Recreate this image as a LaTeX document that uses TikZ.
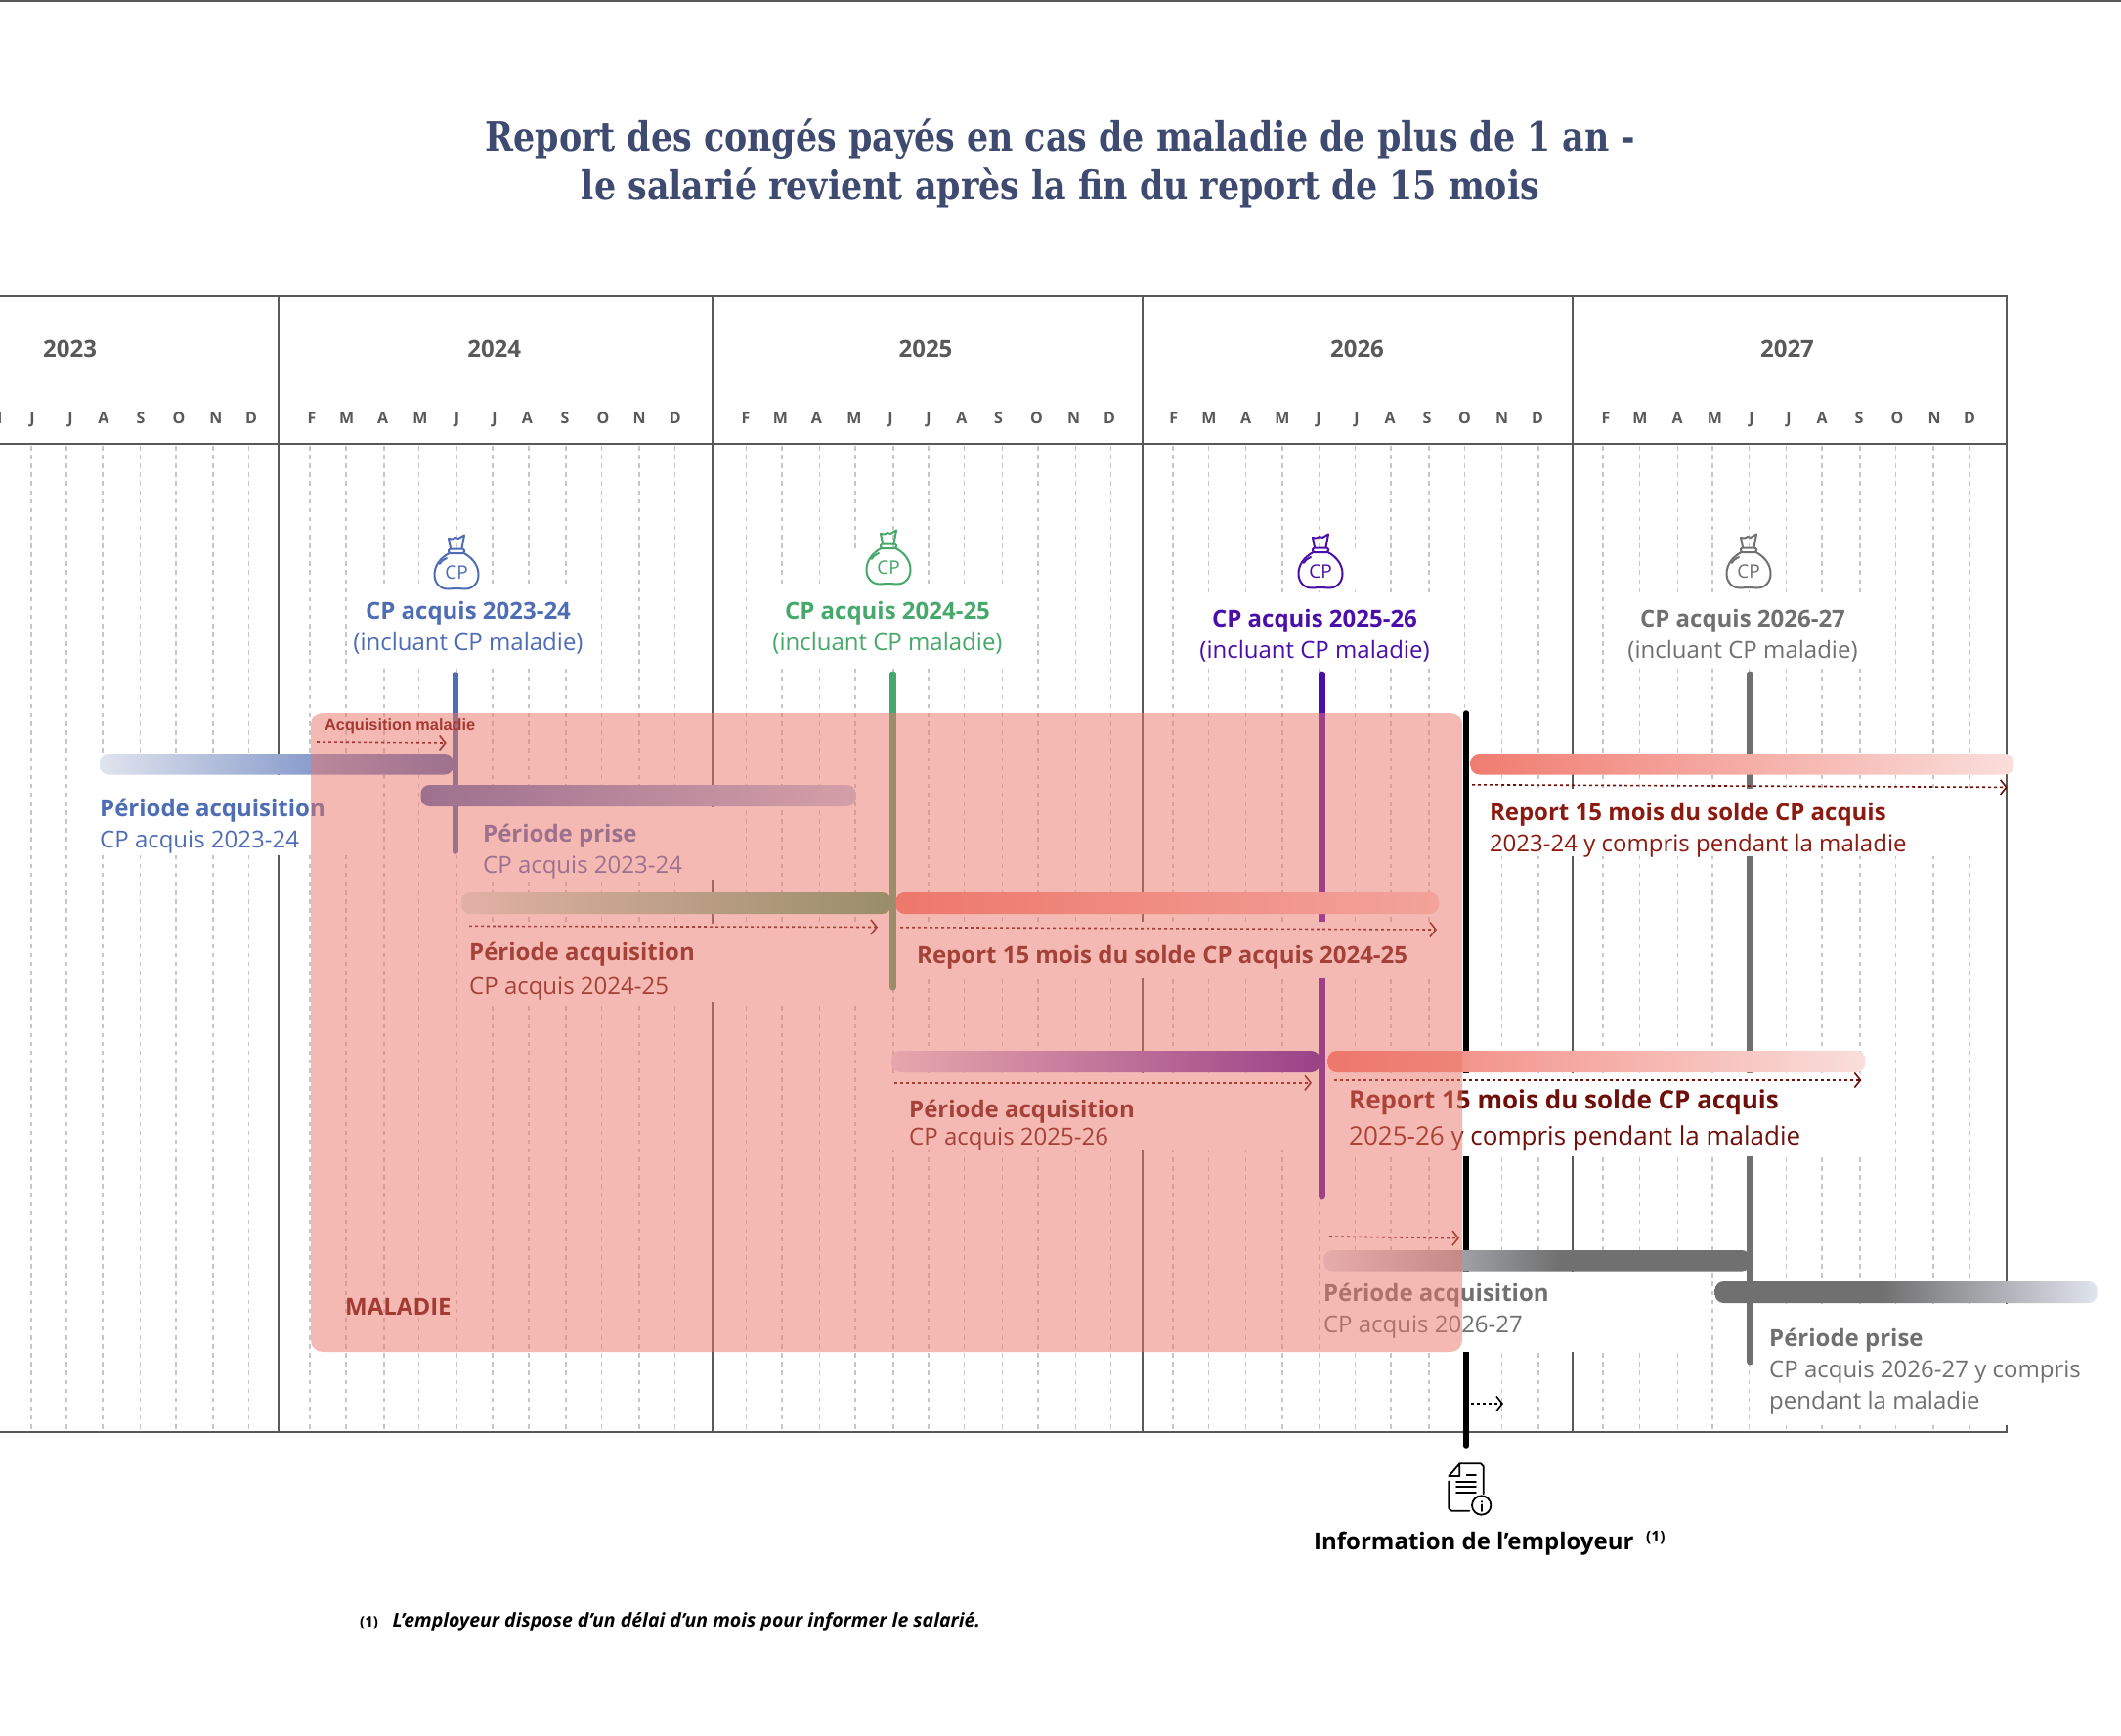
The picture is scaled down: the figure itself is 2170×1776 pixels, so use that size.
\documentclass[tikz,border=0pt]{standalone}
\usepackage{fontspec}
\usetikzlibrary{arrows.meta}
\setmainfont{Open Sans}
\newfontfamily\titlefont[FakeStretch=0.85]{DejaVu Serif Bold}
\newfontfamily\arialfont{Liberation Sans}
\definecolor{cblue}{HTML}{4F6DB5}
\definecolor{cbluel}{HTML}{E0E4EE}
\definecolor{cbluem}{HTML}{BCCBE7}
\definecolor{cgreen}{HTML}{46A86A}
\definecolor{cgreenl}{HTML}{D6EEE2}
\definecolor{cpurple}{HTML}{4A0FA8}
\definecolor{cpurplel}{HTML}{E2DAF0}
\definecolor{cgray}{HTML}{707070}
\definecolor{cframe}{HTML}{595959}
\definecolor{cgrid}{HTML}{C6C6C6}
\definecolor{csalmon}{HTML}{F07C70}
\definecolor{csalmonl}{HTML}{FADEDB}
\definecolor{csalmonm}{HTML}{FBD3CF}
\definecolor{cred}{HTML}{8B1A10}
\definecolor{cdark}{HTML}{6E0F0A}
\definecolor{cmid}{HTML}{5C0D08}
\definecolor{cmal}{HTML}{A33A33}
\definecolor{crect}{HTML}{EC7569}
\definecolor{ctitle}{HTML}{3E4A6F}
\pgfdeclarehorizontalshading{grayin}{100bp}{color(0bp)=(cbluel); color(25bp)=(cbluel); color(52.7bp)=(cgray); color(75bp)=(cgray); color(100bp)=(cgray)}
\pgfdeclarehorizontalshading{grayout}{100bp}{color(0bp)=(cgray); color(25bp)=(cgray); color(46.8bp)=(cgray); color(75bp)=(cbluel); color(100bp)=(cbluel)}
\newcommand{\fsz}[1]{\fontsize{#1}{#1}\selectfont}
\tikzset{
 x=1pt,y=-1pt,
 framel/.style={draw=cframe,line width=2pt},
 gridl/.style={draw=cgrid,line width=1.5pt,dash pattern=on 4.5pt off 4.6pt},
 mask/.style={fill=white,draw=none},
 stem/.style={line width=#1,line cap=round},
 stem/.default=7pt,
 bar/.style={rounded corners=9pt,draw=none},
 arr/.style={line width=1.6pt,dash pattern=on 3pt off 3pt,-{Straight Barb[length=6pt,width=15pt,line width=1.6pt]}},
 lbl/.style={anchor=mid west,inner sep=0pt,font=\fsz{24},yshift=-5.5pt},
 lblb/.style={anchor=mid west,inner sep=0pt,font=\fsz{24}\bfseries,yshift=-5.5pt},
 ctr/.style={anchor=mid,inner sep=0pt,font=\fsz{24},yshift=-5.5pt},
 ctrb/.style={anchor=mid,inner sep=0pt,font=\fsz{24}\bfseries,yshift=-5.5pt},
 year/.style={anchor=mid,inner sep=0pt,text=cframe,font=\fsz{24}\bfseries,yshift=-5.5pt},
 mon/.style={anchor=mid,inner sep=0pt,text=cframe,font=\fsz{16}\bfseries,yshift=-4pt},
 bag/.pic={
  \begin{scope}[line width=2pt,line join=round,line cap=round,draw=#1]
   \draw (-7.5,19) .. controls (-17,24) and (-22.5,32) .. (-22.5,41) .. controls (-22.5,50) and (-16,56) .. (-8,55.5) .. controls (-4,55) and (4,55) .. (8,55.5) .. controls (16,56) and (22.5,50) .. (22.5,41) .. controls (22.5,32) and (17,24) .. (7.5,19);
   \draw[rounded corners=1.5pt] (-8,14.5) rectangle (8,19);
   \draw (-6,14) -- (-8,4) .. controls (-4,5) and (-2,4) .. (-1,3) -- (2,4) .. controls (4,3) and (6,1.5) .. (8,0.5) -- (5.5,14);
   \draw (-17.5,30) .. controls (-15.5,27) and (-13,25) .. (-10,24);
   \node[text=#1,inner sep=0pt,font=\fsz{19}] at (0,39) {CP};
  \end{scope}
 }
}
\begin{document}
\begin{tikzpicture}
\useasboundingbox (0,0) rectangle (2170,1776);
\fill[white] (0,0) rectangle (2170,1776);
% top edge
\coordinate (tl) at (0,0.8); \coordinate (tr) at (2170,0.8);
\draw[cframe,line width=1.6pt] (tl) -- (tr);
% grid
\foreach \x in {32,68,105,143.5,180,218,254.5,317,354,393,428.6,467.5,504,541,579,615.4,654,690.7,763.4,800,838.6,875,914,950,986.6,1025.4,1062,1100.7,1136.6,1200,1236.6,1274.6,1312,1350,1386.6,1423,1462,1498.5,1536.6,1574,1640,1677.6,1716.4,1752,1789.6,1827.6,1864,1903,1939.5,1978,2015}
  \draw[gridl] (\x,456) -- (\x,1463);
% frame
\draw[framel] (0,303) -- (2053,303) -- (2053,1464.5) -- (0,1464.5);
\draw[framel] (0,453.5) -- (2053,453.5);
\foreach \x in {285,729,1169,1609} \draw[framel] (\x,303) -- (\x,1464.5);
% stems
\draw[stem=5.5pt,cblue] (466,690) -- (466,871);
\draw[stem,cgreen] (913.5,690) -- (913.5,1010);
\draw[stem,cpurple] (1352,690) -- (1352,1224);
\draw[stem,cgray] (1790,690) -- (1790,1393);
\draw[stem=5.5pt,black] (1500,729) -- (1500,1479);
% masks
\fill[mask] (100,793) rectangle (360,875);
\fill[mask] (470,826) rectangle (735,899.5);
\fill[mask] (475,945) rectangle (908,1025);
\fill[mask] (918,943) rectangle (1475,1001);
\fill[mask] (1504,807) rectangle (2050,876);
\fill[mask] (905,1098) rectangle (1348,1177);
\fill[mask] (1358,1098) rectangle (1906,1183);
\fill[mask] (1354,1301) rectangle (1735,1383);
\fill[mask] (1805,1334) rectangle (2146,1458);
% head masks
\foreach \cx/\cy in {467/545,909/541,1351/544,1789/544} \fill[mask] (\cx-36,\cy+20) rectangle (\cx+36,\cy+60);
\foreach \cx/\cy in {479/600,908/600,1345/608,1783/608} \fill[mask] (\cx-122,\cy) rectangle (\cx+122,684);
% year labels
\node[year] (y23) at (71.6,357) {2023};
\node[year] (y24) at (505.7,357) {2024};
\node[year] (y25) at (947,357) {2025};
\node[year] (y26) at (1388.5,357) {2026};
\node[year] (y27) at (1828.5,357) {2027};
% months
\foreach \x/\m in {-5/M,33/J,72/J,106/A,144/S,183/O,221/N,257/D,319/F,354.6/M,391.6/A,430/M,467.5/J,506/J,539.5/A,578/S,617/O,654/N,690.7/D,763/F,798.5/M,835.5/A,874/M,911/J,950/J,984/A,1021.6/S,1060.4/O,1098.5/N,1135/D,1200.7/F,1237/M,1274.6/A,1312/M,1349/J,1388/J,1422/A,1460/S,1498.5/O,1536.6/N,1573/D,1643/F,1678/M,1716/A,1754.5/M,1792/J,1830/J,1864/A,1902/S,1941/O,1979/N,2015/D}
  \node[mon] at (\x,427) {\m};
% bags and heads
\pic at (467,547) {bag=cblue};
\pic at (909,542) {bag=cgreen};
\pic at (1351,546) {bag=cpurple};
\pic at (1789,546) {bag=cgray};
\node[ctrb,text=cblue] (h1a) at (479,625) {CP acquis 2023-24};
\node[ctr,text=cblue] (h1b) at (479,657) {(incluant CP maladie)};
\node[ctrb,text=cgreen] (h2a) at (908,625) {CP acquis 2024-25};
\node[ctr,text=cgreen] (h2b) at (908,657) {(incluant CP maladie)};
\node[ctrb,text=cpurple] (h3a) at (1345,633) {CP acquis 2025-26};
\node[ctr,text=cpurple] (h3b) at (1345,665) {(incluant CP maladie)};
\node[ctrb,text=cgray] (h4a) at (1783,633) {CP acquis 2026-27};
\node[ctr,text=cgray] (h4b) at (1783,665) {(incluant CP maladie)};
% bars
\path[bar,left color=cbluel,right color=cblue] (102,771) rectangle (464,792.5);
\path[bar,left color=cblue,right color=cbluem] (430.5,803) rectangle (875.6,825);
\path[bar,left color=cgreenl,right color=cgreen] (472,913) rectangle (911.5,935);
\path[bar,left color=csalmon,right color=csalmonm] (916.5,913) rectangle (1472,935);
\path[bar,left color=csalmon,right color=csalmonl] (1504.5,771) rectangle (2060.4,792.5);
\path[bar,left color=cpurplel,right color=cpurple] (912,1075) rectangle (1350.5,1097);
\path[bar,left color=csalmon,right color=csalmonl] (1358.5,1075) rectangle (1908.4,1097);
\path[bar,shading=grayin] (1354.4,1279) rectangle (1791,1300.6);
\path[bar,shading=grayout] (1754.5,1311) rectangle (2145.7,1333);
% arrows
\coordinate (a3s) at (480,947.4); \coordinate (a3e) at (898,948.5);
\coordinate (a4s) at (921,948.7); \coordinate (a4e) at (1470,951);
\coordinate (a5s) at (1506,802.8); \coordinate (a5e) at (2053.7,805.4);
\coordinate (a6s) at (915,1107.8); \coordinate (a6e) at (1342,1107.8);
\coordinate (a7s) at (1364.5,1105); \coordinate (a7e) at (1904.4,1105);
\coordinate (a8s) at (1360,1265); \coordinate (a8e) at (1493,1266.7);
\coordinate (a9s) at (1505,1436); \coordinate (a9e) at (1538,1436);
\draw[arr,cmid] (a3s) -- (a3e);
\draw[arr,cmid] (a4s) -- (a4e);
\draw[arr,cdark] (a5s) -- (a5e);
\draw[arr,cmid] (a6s) -- (a6e);
\draw[arr,cdark] (a7s) -- (a7e);
\draw[arr,cmid] (a8s) -- (a8e);
\draw[arr,black] (a9s) -- (a9e);
% labels
\node[lblb,text=cblue] (t1a) at (102,827) {Période acquisition};
\node[lbl,text=cblue] (t1b) at (102,859) {CP acquis 2023-24};
\node[lblb,text=cblue] (t2a) at (494,853) {Période prise};
\node[lbl,text=cblue] (t2b) at (494,885) {CP acquis 2023-24};
\node[lblb,text=cmid] (t3a) at (480,974) {Période acquisition};
\node[lbl,text=cmid] (t3b) at (480,1009) {CP acquis 2024-25};
\node[lblb,text=cmid] (t4) at (938,977) {Report 15 mois du solde CP acquis 2024-25};
\node[lblb,text=cred] (t5a) at (1523.8,831) {Report 15 mois du solde CP acquis};
\node[lbl,text=cred] (t5b) at (1523.8,863) {2023-24 y compris pendant la maladie};
\node[lblb,text=cmid] (t6a) at (930,1135) {Période acquisition};
\node[lbl,text=cmid] (t6b) at (930,1163) {CP acquis 2025-26};
\node[lblb,text=cdark,font=\fsz{26}\bfseries] (t7a) at (1380,1126.5) {Report 15 mois du solde CP acquis};
\node[lbl,text=cdark,font=\fsz{26}] (t7b) at (1380,1163) {2025-26 y compris pendant la maladie};
\node[lblb,text=cgray] (t8a) at (1353.8,1323) {Période acquisition};
\node[lbl,text=cgray] (t8b) at (1353.8,1355) {CP acquis 2026-27};
\node[lblb,text=cgray] (t9a) at (1810,1369) {Période prise};
\node[lbl,text=cgray] (t9b) at (1810,1401) {CP acquis 2026-27 y compris};
\node[lbl,text=cgray] (t9c) at (1810,1433) {pendant la maladie};
% sickness block
\fill[crect,fill opacity=0.5,rounded corners=12pt] (318,729) rectangle (1496,1383);
\node[anchor=mid west,inner sep=0pt,text=cmal,font=\arialfont\fsz{16.3}\bfseries] (am) at (332,745) {Acquisition maladie};
\coordinate (a1s) at (324,759); \coordinate (a1e) at (456.7,760);
\draw[arr,cmal] (a1s) -- (a1e);
\node[lblb,text=cmal] (mal) at (353,1337) {MALADIE};
% employer
\begin{scope}[shift={(1440,1450)},x=0.3333pt,y=-0.3333pt,line width=1.8pt,line cap=round,line join=round]
 \draw (160,142) -- (127,180) -- (160,180) -- (160,142) -- (225,142) -- (233,150) -- (233,235);
 \draw (127,196) -- (127,280) -- (135,287) -- (190,287);
 \draw (182,177) -- (210,177);
 \draw (150,197) -- (210,197); \draw (150,213) -- (210,213); \draw (150,232) -- (210,232);
 \draw (227,270) circle[radius=29];
 \draw (227,258) -- (227,260); \draw (227,268) -- (227,288);
\end{scope}
\node[lblb,text=black] (info) at (1344,1577) {Information de l’employeur};
\node[anchor=mid west,inner sep=0pt,font=\fsz{15.5}\bfseries] (infon) at (1684,1575) {(1)};
% footnote
\node[anchor=mid west,inner sep=0pt,font=\fsz{15}\bfseries] (fn1) at (368,1662) {(1)};
\node[anchor=mid west,inner sep=0pt,font=\fsz{19.5}\bfseries\itshape] (fn2) at (401.5,1662) {L’employeur dispose d’un délai d’un mois pour informer le salarié.};
% title
\node[anchor=mid,inner sep=0pt,text=ctitle,font=\titlefont\fsz{41}] (ti1) at (1085,152) {Report des congés payés en cas de maladie de plus de 1 an -};
\node[anchor=mid,inner sep=0pt,text=ctitle,font=\titlefont\fsz{41}] (ti2) at (1085,202) {le salarié revient après la fin du report de 15 mois};
\end{tikzpicture}
\end{document}
